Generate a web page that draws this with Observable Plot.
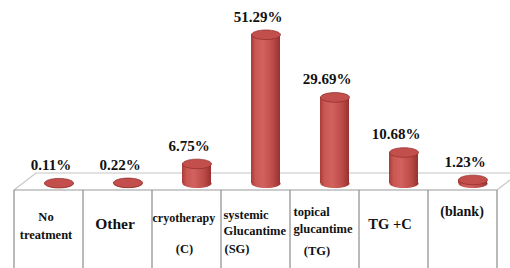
<!DOCTYPE html>
<html>
<head>
<meta charset="utf-8">
<script src="https://cdn.jsdelivr.net/npm/d3@7"></script>
<script src="https://cdn.jsdelivr.net/npm/@observablehq/plot@0.6"></script>
<style>
  html, body { margin: 0; padding: 0; background: #ffffff; }
  #chart { width: 510px; height: 268px; overflow: hidden; }
</style>
</head>
<body>
<div id="chart"></div>
<script>
// ---- data ----
const categories = ["No treatment", "Other", "cryotherapy (C)", "systemic Glucantime (SG)", "topical glucantime (TG)", "TG +C", "(blank)"];
const labelLines = ["No\ntreatment", "Other", "cryotherapy", "systemic\nGlucantime", "topical\nglucantime", "TG +C", "(blank)"];
const abbrevs = ["", "", "(C)", "(SG)", "(TG)", "", ""];
const values = [0.11, 0.22, 6.75, 51.29, 29.69, 10.68, 1.23];

const data = categories.map((c, i) => ({category: c, value: values[i]}));

// ---- layout (styling, not data) ----
const serif = "'Liberation Serif', 'Times New Roman', serif";
const labelStyle = [
  {fontSize: 12.5, fontWeight: "bold", textAnchor: "middle", dx: -3, dy: 41, lineHeight: 1.44},
  {fontSize: 15.5, fontWeight: "bold", textAnchor: "middle", dx: -3, dy: 40, lineHeight: 1.2},
  {fontSize: 12, fontWeight: "bold", textAnchor: "start", dx: -34.5, dy: 34, lineHeight: 1.2},
  {fontSize: 12.5, fontWeight: "bold", textAnchor: "start", dx: -32.5, dy: 38, lineHeight: 1.3},
  {fontSize: 12.5, fontWeight: "bold", textAnchor: "start", dx: -31.5, dy: 35.5, lineHeight: 1.36},
  {fontSize: 14.5, fontWeight: "bold", textAnchor: "middle", dx: -4, dy: 40, lineHeight: 1.2},
  {fontSize: 14, fontWeight: "bold", textAnchor: "middle", dx: -1, dy: 27, lineHeight: 1.2}
];
const abbrevStyle = [
  null, null,
  {dx: -2.5, dy: 65},
  {dx: -19, dy: 65},
  {dx: -8, dy: 67},
  null, null
];

function ellipseSymbol(rx, ry) {
  const k = 0.5523;
  return {
    draw(ctx) {
      ctx.moveTo(rx, 0);
      ctx.bezierCurveTo(rx, ry * k, rx * k, ry, 0, ry);
      ctx.bezierCurveTo(-rx * k, ry, -rx, ry * k, -rx, 0);
      ctx.bezierCurveTo(-rx, -ry * k, -rx * k, -ry, 0, -ry);
      ctx.bezierCurveTo(rx * k, -ry, rx, -ry * k, rx, 0);
      ctx.closePath();
    }
  };
}

const barDx = 10;
const cylFill = "url(#cylGrad)";

const marks = [
  // bottom ellipse of cylinder
  Plot.dot(data, {x: "category", y: () => 0, dx: barDx, r: 1, symbol: ellipseSymbol(14.5, 4.5), fill: cylFill, stroke: "none"}),
  // cylinder body
  Plot.barY(data, {x: "category", y1: () => 0, y2: "value", dx: barDx, insetLeft: 20, insetRight: 20, fill: cylFill}),
  // top ellipse of cylinder
  Plot.dot(data, {x: "category", y: "value", dx: barDx, r: 1, symbol: ellipseSymbol(14.5, 4.8), fill: "#c24f4b", stroke: "#8e2d2a", strokeWidth: 0.7}),
  // value labels
  Plot.text(data, {x: "category", y: "value", text: d => d.value.toFixed(2) + "%", dx: 2, dy: -18,
    fontSize: 15, fontWeight: "bold", fontFamily: serif, fill: "#111"})
];

categories.forEach((c, i) => {
  const s = labelStyle[i];
  marks.push(Plot.text([i], {
    x: d => categories[d], text: d => labelLines[d], frameAnchor: "bottom", lineAnchor: "middle",
    dx: s.dx, dy: s.dy, textAnchor: s.textAnchor, fontSize: s.fontSize, fontWeight: s.fontWeight,
    lineHeight: s.lineHeight, fontFamily: serif, fill: "#111"
  }));
  const a = abbrevStyle[i];
  if (a && abbrevs[i]) {
    marks.push(Plot.text([i], {
      x: d => categories[d], text: d => abbrevs[d], frameAnchor: "bottom", lineAnchor: "middle",
      dx: a.dx, dy: a.dy, textAnchor: "middle", fontSize: 12.5, fontWeight: "bold", fontFamily: serif, fill: "#111"
    }));
  }
});

const plot = Plot.plot({
  width: 510,
  height: 268,
  marginLeft: 13,
  marginRight: 13,
  marginTop: 9,
  marginBottom: 85,
  style: {background: "#ffffff", fontFamily: serif, overflow: "hidden"},
  x: {type: "band", domain: categories, padding: 0, axis: null},
  y: {domain: [0, 60], axis: null},
  marks
});

// gradient for the cylinder shading
const svg = d3.select(plot);
svg.insert("defs", ":first-child").html(`
  <linearGradient id="cylGrad" x1="0" y1="0" x2="1" y2="0">
    <stop offset="0" stop-color="#a83b38"/>
    <stop offset="0.15" stop-color="#c95753"/>
    <stop offset="0.4" stop-color="#d2625e"/>
    <stop offset="0.75" stop-color="#bd4b48"/>
    <stop offset="1" stop-color="#963230"/>
  </linearGradient>`);

// floor + data-table frame, positioned from the plot's own scales
const xs = plot.scale("x");
const ys = plot.scale("y");
const bw = xs.bandwidth;
const left = xs.apply(categories[0]);
const right = xs.apply(categories[categories.length - 1]) + bw;
const base = ys.apply(0);
const front = base + 7;
const depthX = 22, depthY = 17;
const back = front - depthY;
const frame = d3.create("svg:g").attr("fill", "none");
frame.append("path")
  .attr("d", `M${left},${front}L${left + depthX},${back}L${right + depthX},${back}L${right},${front}`)
  .attr("stroke", "#c6c6c6").attr("stroke-width", 1.2);
frame.append("path")
  .attr("d", `M${left},${front}L${right},${front}`)
  .attr("stroke", "#9a9a9a").attr("stroke-width", 1.2);
const edges = categories.map(c => xs.apply(c)).concat([right]);
edges.forEach(xv => {
  frame.append("line").attr("x1", xv).attr("x2", xv).attr("y1", front).attr("y2", 268)
    .attr("stroke", "#8c8c8c").attr("stroke-width", 1.2);
});
plot.insertBefore(frame.node(), plot.querySelector("g"));

document.getElementById("chart").appendChild(plot);
</script>
</body>
</html>
